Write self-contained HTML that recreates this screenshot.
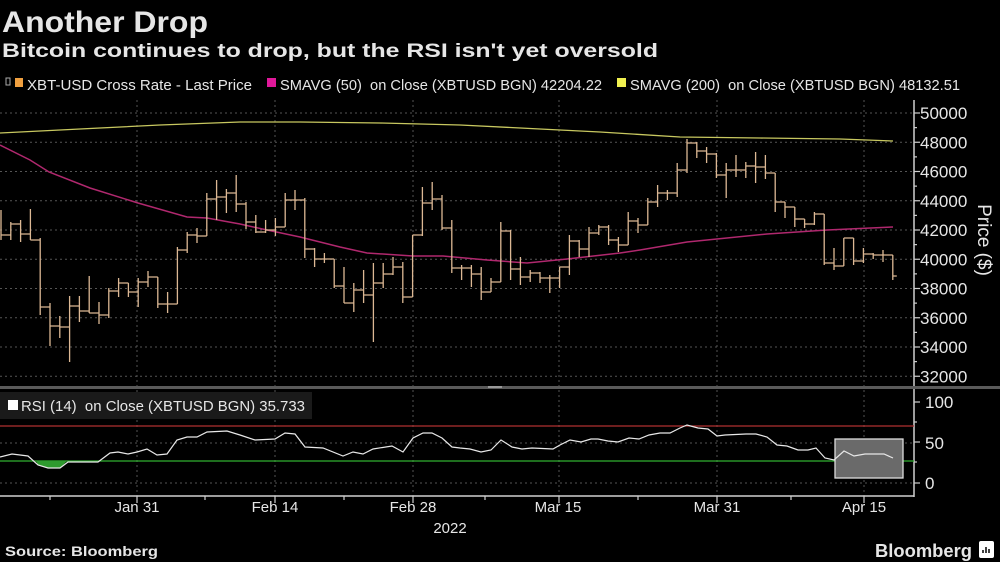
<!DOCTYPE html>
<html><head><meta charset="utf-8"><style>
html,body{margin:0;padding:0;background:#000;width:1000px;height:562px;overflow:hidden}
svg{display:block}
text{font-family:"Liberation Sans",sans-serif;fill:#e6e6e6}
</style></head><body>
<svg id="s" width="1000" height="562" viewBox="0 0 1000 562" xmlns="http://www.w3.org/2000/svg">
<rect width="1000" height="562" fill="#000"/>
<text x="2" y="32" font-size="30" font-weight="bold" fill="#fff" textLength="206" lengthAdjust="spacingAndGlyphs">Another Drop</text>
<text x="2" y="57" font-size="19" font-weight="bold" fill="#fff" textLength="656" lengthAdjust="spacingAndGlyphs">Bitcoin continues to drop, but the RSI isn't yet oversold</text>
<!-- legend -->
<rect x="6" y="78" width="4" height="7" fill="none" stroke="#aaa" stroke-width="1"/>
<rect x="15" y="78" width="8" height="9" fill="#f0a040"/>
<text x="27" y="90" font-size="14.5" textLength="225" lengthAdjust="spacingAndGlyphs">XBT-USD Cross Rate - Last Price</text>
<rect x="267" y="78" width="9" height="9" fill="#e0189a"/>
<text x="280" y="90" font-size="14.5" textLength="322" lengthAdjust="spacingAndGlyphs" xml:space="preserve">SMAVG (50)  on Close (XBTUSD BGN) 42204.22</text>
<rect x="617" y="78" width="9" height="9" fill="#f0f050"/>
<text x="630" y="90" font-size="14.5" textLength="330" lengthAdjust="spacingAndGlyphs" xml:space="preserve">SMAVG (200)  on Close (XBTUSD BGN) 48132.51</text>
<g id="grid" stroke="#555" stroke-width="1" stroke-dasharray="2,3"></g>
<g id="axes"></g>
<!-- separator -->
<rect x="0" y="386" width="1000" height="3" fill="#5a5a5a"/>
<rect x="488" y="386" width="14" height="2" fill="#999"/>
<!-- RSI legend -->
<rect x="0" y="392" width="312" height="27" fill="#1a1a1a"/>
<rect x="8" y="400" width="10" height="10" fill="#fff"/>
<text x="21" y="411" font-size="14.5" textLength="284" lengthAdjust="spacingAndGlyphs" xml:space="preserve">RSI (14)  on Close (XBTUSD BGN) 35.733</text>
<!-- RSI ref lines -->
<line x1="0" y1="426" x2="914" y2="426" stroke="#b03030" stroke-width="1.3"/>
<line x1="0" y1="461" x2="914" y2="461" stroke="#30b030" stroke-width="1.3"/>
<path d="M36,461 L38,465 L48,468 L60,468 L67,461 Z" fill="#2e9a2e"/>
<rect x="835" y="439" width="68" height="39" fill="#6a6a6a" stroke="#ddd" stroke-width="1.3"/>
<polyline id="rsi" fill="none" stroke="#e8e8e8" stroke-width="1.2"/>
<!-- SMAs -->
<polyline fill="none" stroke="#c8c860" stroke-width="1.3" points="0,133 80,129 160,125 240,122 300,122 380,123 460,125 540,129 600,132 680,137 760,138 840,139 893,141"/>
<polyline fill="none" stroke="#b0286e" stroke-width="1.5" points="0,145 30,160 49,172 90,188 138,203 187,217 207,218 240,224 267,230 300,237 340,247 367,253 413,256 443,256 487,260 527,263 567,259 620,253 640,250 687,242 767,234 827,230 893,227"/>
<g id="bars" stroke="#dcb894" stroke-width="1.3" fill="none"></g>
<!-- y labels -->
<g font-size="17" id="ylab"></g>
<text x="925" y="408" font-size="17">100</text>
<text x="925" y="449" font-size="17">50</text>
<text x="925" y="489" font-size="17">0</text>
<text transform="translate(978,240) rotate(90)" font-size="19" text-anchor="middle">Price ($)</text>
<!-- x labels -->
<g font-size="15" text-anchor="middle">
<text x="137" y="512">Jan 31</text>
<text x="275" y="512">Feb 14</text>
<text x="413" y="512">Feb 28</text>
<text x="558" y="512">Mar 15</text>
<text x="717" y="512">Mar 31</text>
<text x="864" y="512">Apr 15</text>
<text x="450" y="533">2022</text>
</g>
<text x="5" y="556" font-size="14" font-weight="bold" fill="#fff" textLength="153" lengthAdjust="spacingAndGlyphs">Source: Bloomberg</text>
<text x="875" y="557" font-size="18" font-weight="bold" fill="#fff" textLength="97" lengthAdjust="spacingAndGlyphs">Bloomberg</text>
<rect x="979" y="541" width="15" height="17" rx="2" fill="#fff"/>
<path d="M983,553 v-3 M986,553 v-6 M989,553 v-4" stroke="#000" stroke-width="1.5"/>
</svg>
<script>
var NS="http://www.w3.org/2000/svg";
function el(p,t,a){var e=document.createElementNS(NS,t);for(var k in a)e.setAttribute(k,a[k]);p.appendChild(e);return e;}
var g=document.getElementById('grid'),ax=document.getElementById('axes');
function py(p){return 113+(50000-p)/2000*29.25;}
for(var p=32000;p<=50000;p+=2000){el(g,'line',{x1:0,x2:914,y1:py(p),y2:py(p)});}
[443,483].forEach(function(y){el(g,'line',{x1:0,x2:914,y1:y,y2:y});});
[137,275,413,559,717,864].forEach(function(x){el(g,'line',{x1:x,x2:x,y1:100,y2:386});el(g,'line',{x1:x,x2:x,y1:390,y2:496});});
var axs={stroke:'#cfcfcf','stroke-width':1.5};
el(ax,'line',Object.assign({x1:914,x2:914,y1:100,y2:497},axs));
el(ax,'line',Object.assign({x1:0,x2:914,y1:496,y2:496},axs));
for(var p=32000;p<=50000;p+=1000){var L=(p%2000==0)?6:3;el(ax,'line',{x1:914,x2:914+L,y1:py(p),y2:py(p),stroke:'#cfcfcf','stroke-width':1.2});}
[402,422,442,462,483].forEach(function(y,i){el(ax,'line',{x1:914,x2:914+(i%2?3:6),y1:y,y2:y,stroke:'#cfcfcf','stroke-width':1.2});});
[137,275,413,559,717,864].forEach(function(x){el(ax,'line',{x1:x,x2:x,y1:496,y2:503,stroke:'#cfcfcf','stroke-width':1.2});});
[50,205,344,485,638,791].forEach(function(x){el(ax,'line',{x1:x,x2:x,y1:496,y2:500,stroke:'#cfcfcf','stroke-width':1.2});});
var yl=document.getElementById('ylab');
for(var p=32000;p<=50000;p+=2000){var t=el(yl,'text',{x:920,y:py(p)+6});t.textContent=p;}
var D=[[210,240,235],[222,240,224],[220,242,234],[209,240,240],[238,315,307],[303,346,326],[316,338,327],[296,362,306],[296,322,311],[276,313,313],[302,324,315],[288,318,291],[278,297,283],[283,297,292],[278,307,282],[271,287,277],[277,308,304],[292,313,304],[247,303,250],[232,253,235],[228,243,236],[193,236,199],[180,220,197],[189,213,193],[175,212,204],[202,229,222],[215,233,232],[220,233,230],[218,236,227],[193,227,200],[190,210,200],[198,258,249],[248,267,259],[253,263,259],[259,288,286],[267,303,303],[283,312,290],[270,303,295],[263,342,283],[263,288,274],[257,275,267],[262,303,297],[235,297,235],[187,236,203],[182,210,199],[195,230,228],[220,273,268],[265,280,268],[265,287,274],[267,300,292],[278,292,282],[222,282,231],[230,280,269],[257,285,277],[270,282,273],[272,283,278],[275,293,278],[267,288,267],[235,275,241],[240,257,249],[227,257,233],[225,235,227],[225,245,240],[237,252,245],[212,245,221],[218,233,225],[198,207,202],[185,207,193],[190,200,193],[163,197,170],[139,173,143],[142,158,151],[147,163,154],[153,178,175],[163,198,170],[155,177,170],[162,178,166],[152,183,167],[155,179,173],[173,212,202],[202,218,207],[207,227,219],[219,228,224],[212,225,214],[214,265,263],[248,270,266],[238,266,238],[238,265,261],[248,263,254],[253,259,255],[250,262,255],[255,280,276]];
var b=document.getElementById('bars'),d='';
for(var i=0;i<D.length;i++){var x=1+i*9.8,h=D[i][0],l=D[i][1],c=D[i][2];var pc=i?D[i-1][2]:c;h=Math.min(h,c,pc);l=Math.max(l,c,pc);
d+='M'+x.toFixed(1)+','+h+'V'+l;var nx=(i<D.length-1)?x+9.8:x+4;d+='M'+x.toFixed(1)+','+c+'H'+nx.toFixed(1);}
el(b,'path',{d:d});
document.getElementById('rsi').setAttribute('points',"0,457 12,454 28,456 38,465 48,468 60,468 68,462 80,462 98,462 110,453 118,452 128,454 137,452 147,449 157,455 167,454 177,440 187,437 197,437 207,432 227,431 240,435 255,440 275,439 285,433 295,434 305,447 323,448 343,456 353,452 363,454 373,449 392,446 403,452 413,438 423,433 432,433 442,438 452,447 460,448 470,449 481,452 491,450 501,440 512,447 522,449 532,448 553,449 560,445 570,440 581,442 591,439 598,439 608,441 618,442 629,438 639,439 649,435 660,433 670,433 680,428 687,425 698,428 708,429 717,436 725,435 746,434 756,434 767,437 777,445 787,446 798,450 808,450 816,448 825,458 834,460 844,451 854,456 865,454 884,454 893,458");
</script>
</body></html>
